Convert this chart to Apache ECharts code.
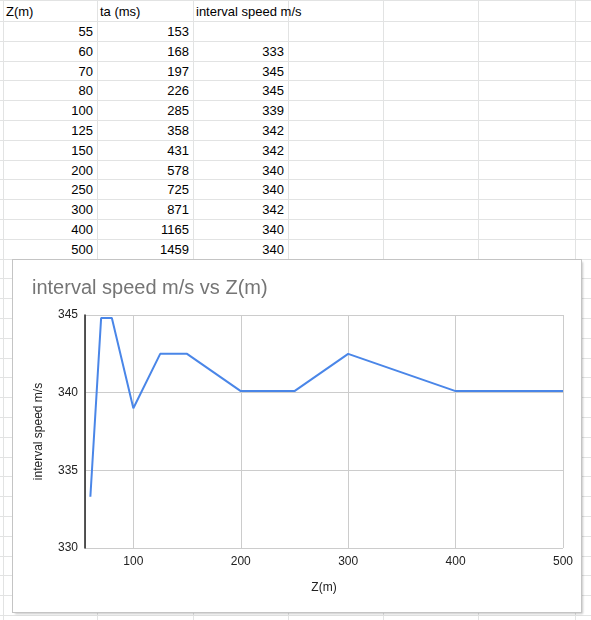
<!DOCTYPE html>
<html>
<head>
<meta charset="utf-8">
<script src="https://cdn.jsdelivr.net/npm/echarts@6/dist/echarts.min.js"></script>
<style>
  html, body { margin:0; padding:0; background:#fff; }
  body { width:591px; height:620px; position:relative; overflow:hidden; font-family:"Liberation Sans", Arial, sans-serif; }
  .hl { position:absolute; left:0; width:591px; height:1px; background:#e2e3e3; }
  .vl { position:absolute; top:0; height:620px; width:1px; background:#e2e3e3; }
  .cell { position:absolute; font-size:13px; color:#000; white-space:nowrap; display:flex; align-items:center; }
  #chart { position:absolute; left:13px; top:260px; width:568px; height:352px; background:#fff;
           box-shadow: 0 0 0 1px #c4c4c4, 2px 2px 2px rgba(0,0,0,0.22); }
</style>
</head>
<body>
<div id="sheet"></div>
<div id="chart"></div>
<script>
// ---- data ----
var headers = ["Z(m)", "ta (ms)", "interval speed m/s"];
var zValues = [55, 60, 70, 80, 100, 125, 150, 200, 250, 300, 400, 500];
var taValues = [153, 168, 197, 226, 285, 358, 431, 578, 725, 871, 1165, 1459];
var speedTable = ["", 333, 345, 345, 339, 342, 342, 340, 340, 342, 340, 340];
// chart points (x = Z(m), y = interval speed, as plotted)
var chartZ = [60, 70, 80, 100, 125, 150, 200, 250, 300, 400, 500];
var chartSpeed = [333.3, 344.8, 344.8, 339.0, 342.5, 342.5, 340.1, 340.1, 342.5, 340.1, 340.1];
var chartTitle = "interval speed m/s vs Z(m)";
var xName = "Z(m)";
var yName = "interval speed m/s";

// ---- spreadsheet background ----
var sheet = document.getElementById('sheet');
var colEdges = [3, 97, 193, 288, 383, 478, 575];
var rowLines = [0];
for (var r = 0; r < 32; r++) rowLines.push(Math.round(21 + r * 19.8));
rowLines.forEach(function (y) {
  var d = document.createElement('div'); d.className = 'hl'; d.style.top = y + 'px'; sheet.appendChild(d);
});
colEdges.forEach(function (x) {
  var d = document.createElement('div'); d.className = 'vl'; d.style.left = x + 'px'; sheet.appendChild(d);
});
function addCell(text, col, row, alignRight) {
  var d = document.createElement('div');
  d.className = 'cell';
  var x0 = colEdges[col], x1 = colEdges[col + 1];
  var y0 = rowLines[row], y1 = rowLines[row + 1];
  d.style.top = (y0 + 1) + 'px';
  d.style.height = (y1 - y0 - 1) + 'px';
  if (alignRight) {
    d.style.left = (x0 + 1) + 'px';
    d.style.width = (x1 - x0 - 5) + 'px';
    d.style.justifyContent = 'flex-end';
  } else {
    d.style.left = (x0 + 3) + 'px';
  }
  d.textContent = text;
  sheet.appendChild(d);
}
headers.forEach(function (h, i) { addCell(h, i, 0, false); });
for (var i = 0; i < zValues.length; i++) {
  addCell(String(zValues[i]), 0, i + 1, true);
  addCell(String(taValues[i]), 1, i + 1, true);
  addCell(String(speedTable[i]), 2, i + 1, true);
}

// ---- chart ----
var chart = echarts.init(document.getElementById('chart'), null, { renderer: 'canvas' });
var pts = chartZ.map(function (z, i) { return [z, chartSpeed[i]]; });
chart.setOption({
  animation: false,
  backgroundColor: '#fff',
  title: {
    text: chartTitle, left: 14, top: 13,
    textStyle: { fontSize: 20, fontWeight: 'normal', color: '#757575', fontFamily: 'Liberation Sans, Arial' }
  },
  grid: { left: 72, top: 55, right: 18, bottom: 64, containLabel: false },
  xAxis: {
    type: 'value', min: 55, max: 500, splitNumber: 5,
    name: xName, nameLocation: 'middle', nameGap: 34,
    nameTextStyle: { fontSize: 12, color: '#222', fontFamily: 'Liberation Sans, Arial' },
    axisLine: { show: false },
    axisTick: { show: false },
    axisLabel: { showMinLabel: false, fontSize: 12, color: '#222', margin: 8, fontFamily: 'Liberation Sans, Arial' },
    splitLine: { show: true, lineStyle: { color: '#cccccc', width: 1 } }
  },
  yAxis: {
    type: 'value', min: 330, max: 345, interval: 5,
    name: yName, nameLocation: 'middle', nameGap: 40,
    nameTextStyle: { fontSize: 12, color: '#222', fontFamily: 'Liberation Sans, Arial' },
    axisLine: { show: true, lineStyle: { color: '#222', width: 1.5 } },
    axisTick: { show: false },
    axisLabel: { fontSize: 12, color: '#222', margin: 7, fontFamily: 'Liberation Sans, Arial' },
    splitLine: { show: true, lineStyle: { color: '#cccccc', width: 1 } }
  },
  series: [{
    type: 'line', data: pts, showSymbol: false, symbol: 'none',
    lineStyle: { color: '#4a86e8', width: 2 }, itemStyle: { color: '#4a86e8' }
  }]
});
</script>
</body>
</html>
